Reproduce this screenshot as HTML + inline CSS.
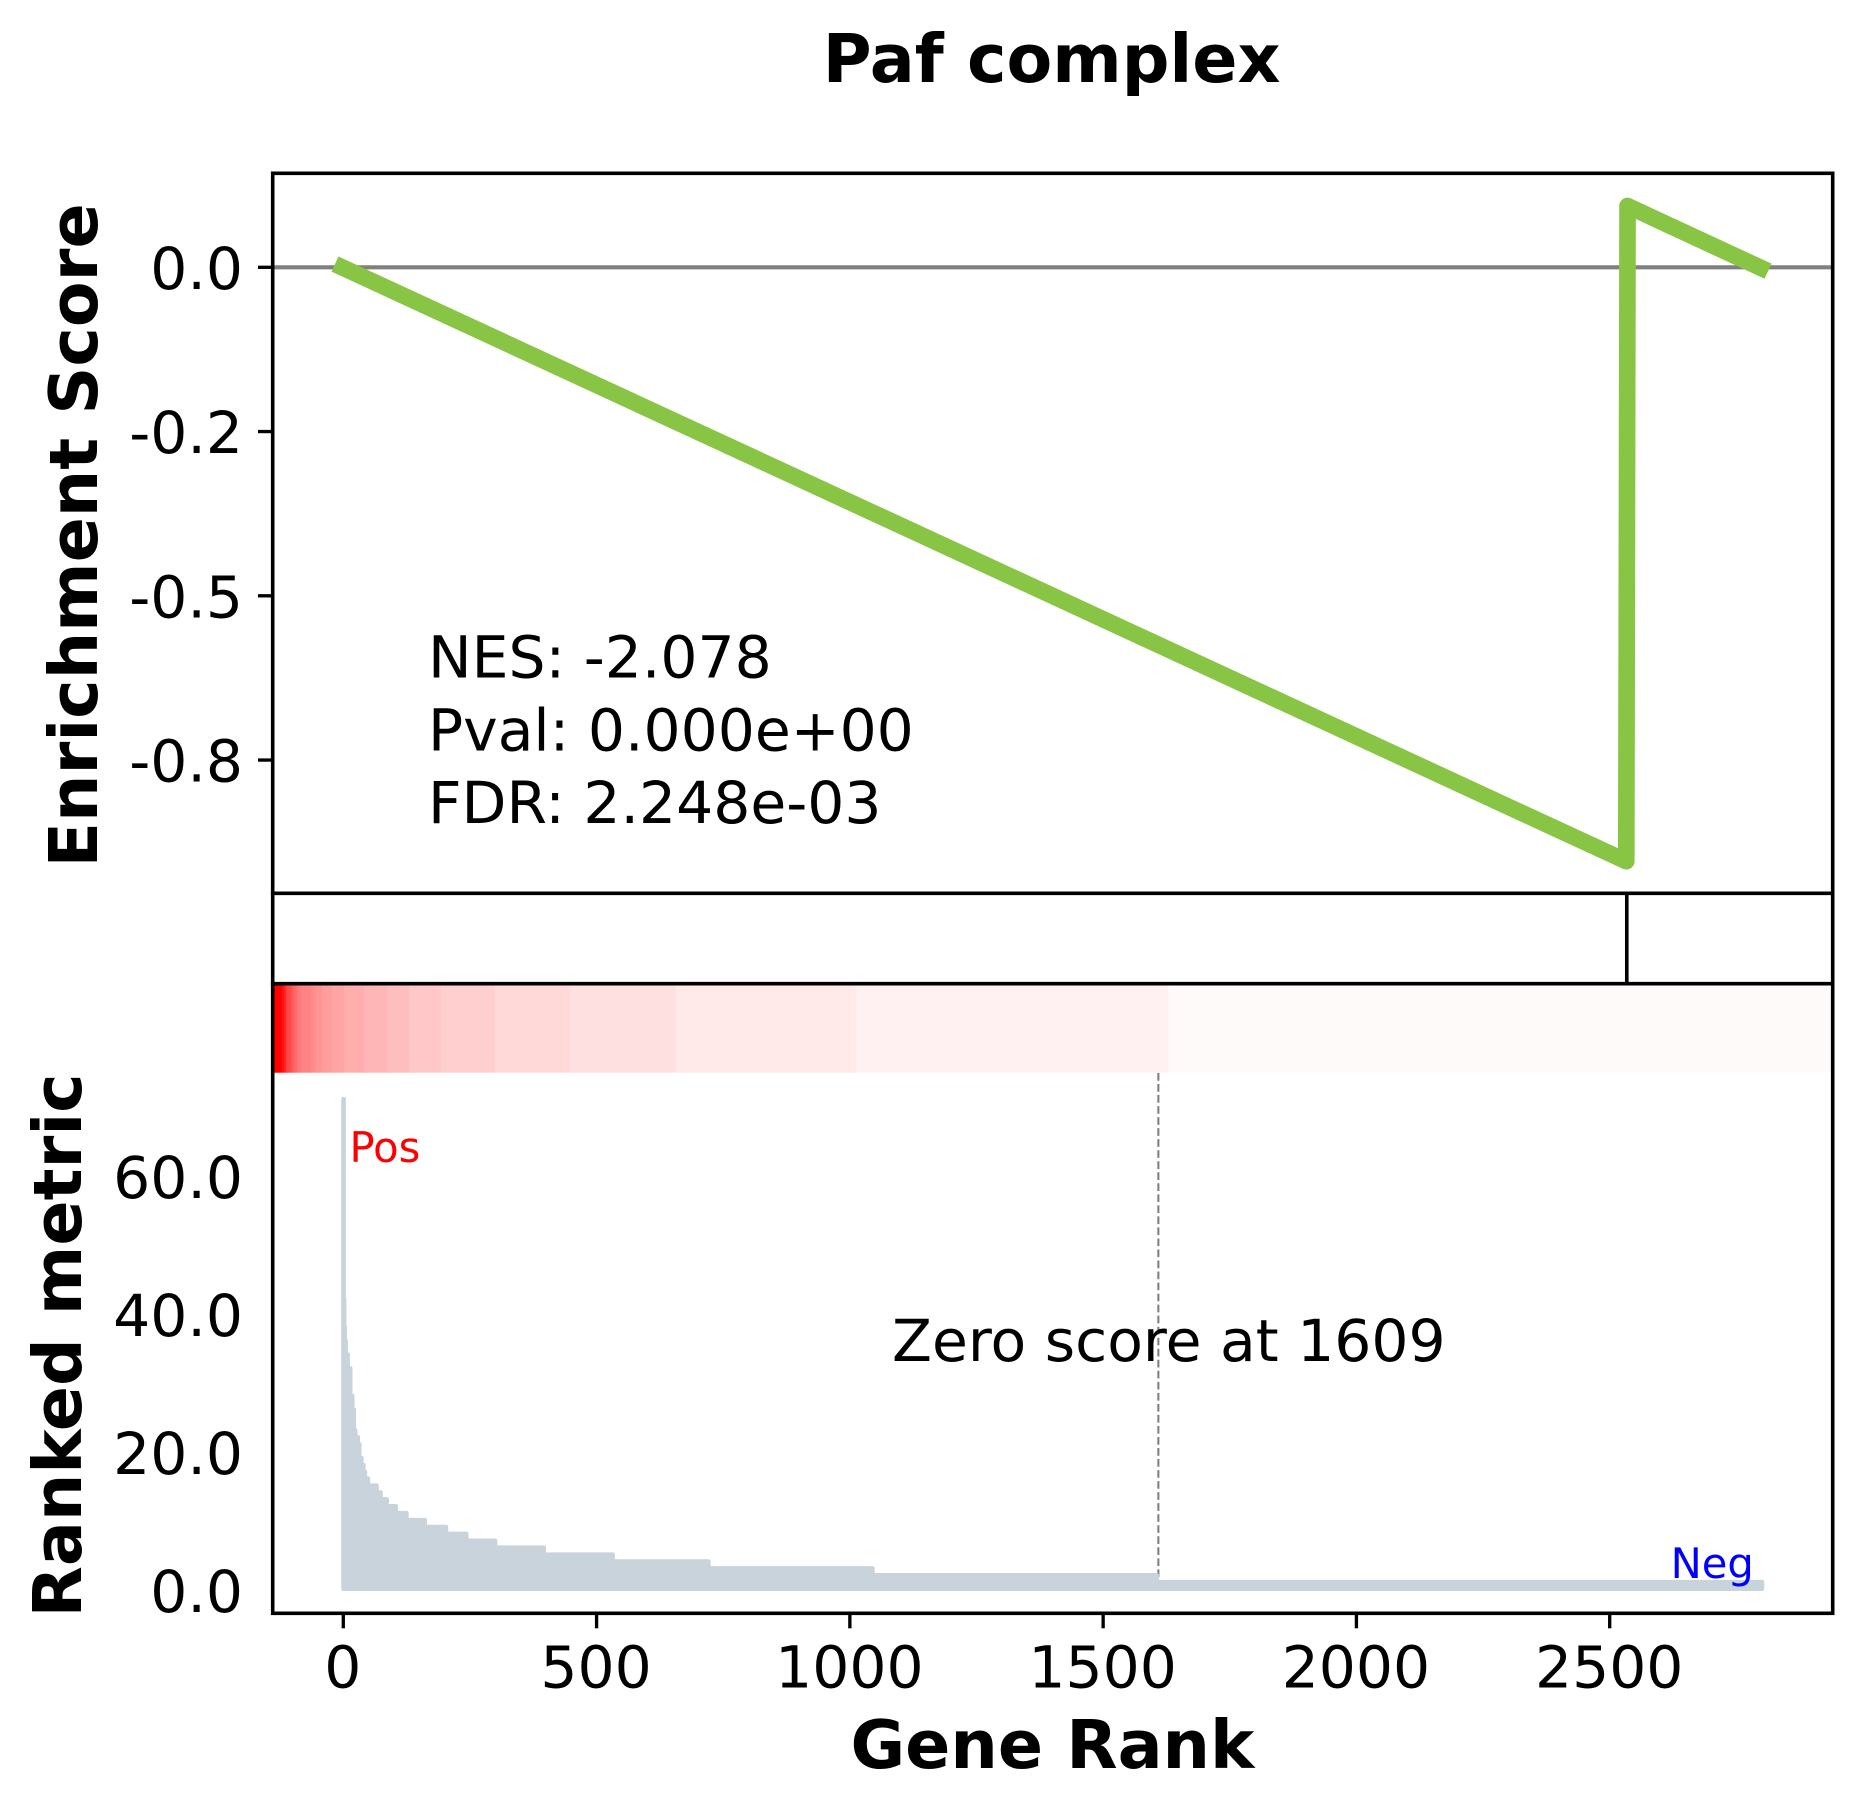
<!DOCTYPE html>
<html lang="en">
<head>
<meta charset="utf-8">
<title>Paf complex</title>
<style>
html,body{margin:0;padding:0;background:#fff;}
svg{display:block;}
text{font-family:"DejaVu Sans","Liberation Sans",sans-serif;fill:#000;}
.tick{font-size:58.33px;}
.bold{font-weight:bold;font-size:66.67px;}
</style>
</head>
<body>
<svg id="chart" xmlns="http://www.w3.org/2000/svg" width="1861" height="1812" viewBox="0 0 1861 1812">
  <rect x="0" y="0" width="1861" height="1812" fill="#ffffff"/>
  <g id="heat-layer"></g>
  <line id="zero-line" stroke="#808080" stroke-width="2.08" stroke-dasharray="7.7 3.33"/>
  <path id="metric-area" fill="#C9D3DB" stroke="#C9D3DB" stroke-width="4.17" stroke-linejoin="round"/>
  <line id="es-zero" stroke="#808080" stroke-width="4.17"/>
  <path id="es-line" fill="none" stroke="#88C544" stroke-width="16.67" stroke-linejoin="round" stroke-linecap="butt"/>
  <g id="hit-layer"></g>
  <g id="frame" stroke="#000" stroke-width="3.6" fill="none" stroke-linecap="square">
    <rect x="272.7" y="173.3" width="1560" height="1440"/>
    <line x1="272.7" x2="1832.7" y1="893.3" y2="893.3"/>
    <line x1="272.7" x2="1832.7" y1="983.7" y2="983.7"/>
  </g>
  <g id="tick-layer"></g>

  <text class="bold" x="1051.6" y="82" text-anchor="middle">Paf complex</text>
  <text class="bold" x="97" y="535.4" text-anchor="middle" transform="rotate(-90 97 535.4)">Enrichment Score</text>
  <text class="bold" x="81" y="1345.4" text-anchor="middle" transform="rotate(-90 81 1345.4)">Ranked metric</text>
  <text class="bold" x="1052.4" y="1768" text-anchor="middle">Gene Rank</text>

  <text class="tick" x="428" y="677.4">NES: -2.078</text>
  <text class="tick" x="428" y="750.4">Pval: 0.000e+00</text>
  <text class="tick" x="428" y="823">FDR: 2.248e-03</text>
  <text class="tick" x="892" y="1361">Zero score at 1609</text>
  <text x="349.5" y="1162" font-size="41.67" style="fill:#ff0000">Pos</text>
  <text x="1670.6" y="1578" font-size="41.67" style="fill:#0000ff">Neg</text>
</svg>
<script>
const rankEnds = [1,2,3,5,9,14,18,21,24,29,32,36,40,43,49,66,74,86,104,125,161,203,243,300,396,532,721,1045,1606,2801];
const metricValues = [71,42,38,36,34,32,28,26,23,22,21,19,18,17,16,15,14,13,12,11,10,9,8,7,6,5,4,3,2,1];
const esRanks = [0,2523,2525.5,2800];
const esValues = [0.005,-0.904,0.0933,-0.006];
const hitRanks = [2524];
const zeroRank = 1609;
const xTickValues = [0,500,1000,1500,2000,2500];
const xTickLabels = ["0","500","1000","1500","2000","2500"];
const esTickValues = [0,-0.25,-0.5,-0.75];
const esTickLabels = ["0.0","-0.2","-0.5","-0.8"];
const metricTickValues = [0,20,40,60];
const metricTickLabels = ["0.0","20.0","40.0","60.0"];

const NS = 'http://www.w3.org/2000/svg';
const AX_L = 273, AX_R = 1832.7, AX_B = 1613.3;
function xRank(r){ return 343.3 + r * 0.50656; }
function xEs(r){ return 335 + r * 0.5118; }
function xHeat(r){ return AX_L + (r + 2) * (AX_R - AX_L) / rankEnds[rankEnds.length - 1]; }
function yEs(v){ return 267.3 - v * 657; }
function yMetric(v){ return 1588.9 - v * 6.9; }
function heatColor(v){
  const c = Math.max(0, Math.min(255, Math.round(258.4 - 8.5 * v)));
  return 'rgb(255,' + c + ',' + c + ')';
}

const heatLayer = document.getElementById('heat-layer');
let prevEnd = 0;
rankEnds.forEach(function(end, i){
  const cell = document.createElementNS(NS, 'rect');
  
  
  cell.setAttribute('x', xHeat(prevEnd));
  cell.setAttribute('y', 983.7);
  cell.setAttribute('width', xHeat(end) - xHeat(prevEnd) + 0.4);
  cell.setAttribute('height', 89);
  cell.setAttribute('fill', heatColor(metricValues[i]));
  heatLayer.appendChild(cell);
  prevEnd = end;
});

let area = 'M' + xRank(0) + ',' + yMetric(0) + ' L' + xRank(0) + ',' + yMetric(metricValues[0]);
rankEnds.forEach(function(end, i){
  area += ' L' + xRank(end) + ',' + yMetric(metricValues[i]);
  if (i < rankEnds.length - 1) area += ' L' + xRank(end) + ',' + yMetric(metricValues[i + 1]);
});
area += ' L' + xRank(rankEnds[rankEnds.length - 1]) + ',' + yMetric(0) + ' Z';
document.getElementById('metric-area').setAttribute('d', area);

const zl = document.getElementById('zero-line');
zl.setAttribute('x1', xRank(zeroRank));
zl.setAttribute('x2', xRank(zeroRank));
zl.setAttribute('y1', 1073);
zl.setAttribute('y2', yMetric(0));

const ez = document.getElementById('es-zero');
ez.setAttribute('x1', AX_L);
ez.setAttribute('x2', AX_R);
ez.setAttribute('y1', yEs(0));
ez.setAttribute('y2', yEs(0));

document.getElementById('es-line').setAttribute('d',
  esRanks.map(function(r, i){ return (i ? 'L' : 'M') + xEs(r) + ',' + yEs(esValues[i]); }).join(' '));

const hitLayer = document.getElementById('hit-layer');
hitRanks.forEach(function(r){
  const hit = document.createElementNS(NS, 'line');
  
  
  hit.setAttribute('x1', xEs(r));
  hit.setAttribute('x2', xEs(r));
  hit.setAttribute('y1', 893.3);
  hit.setAttribute('y2', 983.7);
  hit.setAttribute('stroke', '#000');
  hit.setAttribute('stroke-width', 3.6);
  hitLayer.appendChild(hit);
});

const tickLayer = document.getElementById('tick-layer');
function addLabel(name, x, y, anchor, str){
  const t = document.createElementNS(NS, 'text');
  
  
  t.setAttribute('class', 'tick');
  t.setAttribute('x', x);
  t.setAttribute('y', y);
  t.setAttribute('text-anchor', anchor);
  t.textContent = str;
  tickLayer.appendChild(t);
}
function addMark(name, x1, y1, x2, y2){
  const l = document.createElementNS(NS, 'line');
  
  
  l.setAttribute('x1', x1);
  l.setAttribute('y1', y1);
  l.setAttribute('x2', x2);
  l.setAttribute('y2', y2);
  l.setAttribute('stroke', '#000');
  l.setAttribute('stroke-width', 3.33);
  tickLayer.appendChild(l);
}
xTickValues.forEach(function(v, i){
  addMark('x-tick', xRank(v), AX_B, xRank(v), AX_B + 15);
  addLabel('x-tick-label', xRank(v) - 0.5, 1687.5, 'middle', xTickLabels[i]);
});
esTickValues.forEach(function(v, i){
  addMark('es-y-tick', AX_L - 15, yEs(v), AX_L, yEs(v));
  addLabel('es-y-tick-label', 243, yEs(v) + 21.5, 'end', esTickLabels[i]);
});
metricTickValues.forEach(function(v, i){
  addLabel('metric-y-tick-label', 243, yMetric(v) + 23, 'end', metricTickLabels[i]);
});
</script>
</body>
</html>
